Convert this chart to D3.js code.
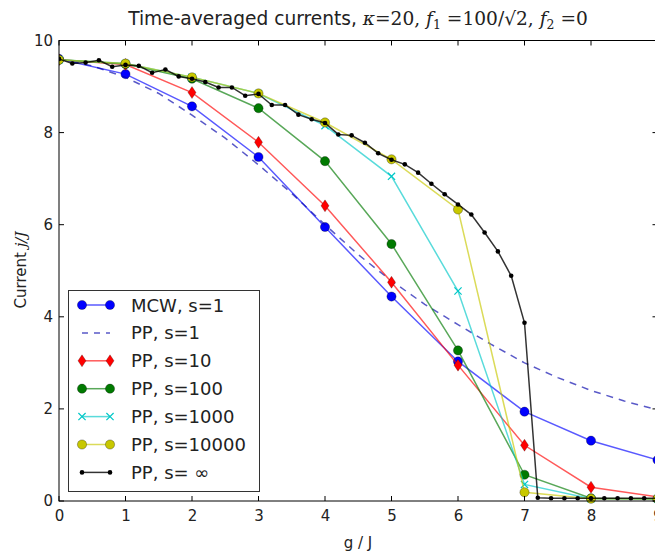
<!DOCTYPE html>
<html><head><meta charset="utf-8">
<script src="https://cdn.jsdelivr.net/npm/d3@7"></script>
<style>body{margin:0;background:#fff} svg{display:block}</style>
</head><body>
<svg id="c" width="655" height="552"></svg>
<script>
// ---------- data ----------
const gValues = [0, 1, 2, 3, 4, 5, 6, 7, 8, 9];
const mcwS1   = [9.60, 9.27, 8.57, 7.47, 5.95, 4.44, 3.03, 1.94, 1.31, 0.89];
const ppS10   = [9.58, 9.48, 8.87, 7.79, 6.41, 4.75, 2.95, 1.21, 0.30, 0.09];
const ppS100  = [9.58, 9.49, 9.17, 8.53, 7.38, 5.58, 3.27, 0.57, 0.06, 0.04];
const ppS1000 = [9.58, 9.50, 9.20, 8.85, 8.15, 7.05, 4.56, 0.36, 0.05, 0.05];
const ppS10000= [9.58, 9.50, 9.20, 8.85, 8.22, 7.42, 6.33, 0.19, 0.05, 0.05];
const ppS1X   = [0, 0.5, 1, 1.5, 2, 2.5, 3, 3.5, 4, 4.5, 5, 5.5, 6, 6.5, 7, 7.5, 8, 8.5, 9];
const ppS1    = [9.60, 9.45, 9.20, 8.85, 8.38, 7.88, 7.30, 6.68, 6.00, 5.35, 4.78, 4.27, 3.83, 3.40, 3.00, 2.68, 2.40, 2.17, 1.98];
const ppInfX  = [0, 0.2, 0.4, 0.6, 0.8, 1.0, 1.2, 1.4, 1.6, 1.8, 2.0, 2.2, 2.4, 2.6, 2.8, 3.0, 3.2, 3.4, 3.6, 3.8,
                 4.0, 4.2, 4.4, 4.6, 4.8, 5.0, 5.2, 5.4, 5.6, 5.8, 6.0, 6.2, 6.4, 6.6, 6.8, 7.0, 7.2, 7.4, 7.6, 7.8,
                 8.0, 8.2, 8.4, 8.6, 8.8, 9.0];
const ppInf   = [9.60, 9.50, 9.52, 9.57, 9.43, 9.47, 9.45, 9.30, 9.37, 9.22, 9.17, 9.10, 8.98, 8.98, 8.80, 8.84, 8.60, 8.60, 8.39, 8.29,
                 8.21, 7.96, 7.94, 7.78, 7.55, 7.41, 7.31, 7.13, 6.89, 6.66, 6.44, 6.22, 5.83, 5.42, 4.89, 3.87, 0.07, 0.06, 0.06, 0.06,
                 0.06, 0.06, 0.06, 0.06, 0.06, 0.06];
const xTicks = [0, 1, 2, 3, 4, 5, 6, 7, 8, 9];
const yTicks = [0, 2, 4, 6, 8, 10];
const legendLabels = ["MCW, s=1", "PP, s=1", "PP, s=10", "PP, s=100", "PP, s=1000", "PP, s=10000", "PP, s= \u221E"];

// ---------- layout ----------
const svg = d3.select("#c");
const L = 59, R = 657.5, T = 40.5, B = 501;
const x = d3.scaleLinear().domain([0, 9]).range([L, R]);
const y = d3.scaleLinear().domain([0, 10]).range([B, T]);
const sans = "'DejaVu Sans', sans-serif";
const serif = "'DejaVu Serif', serif";

const zip = (xs, ys) => xs.map((v, i) => [v, ys[i]]);
const series = [
  {label: legendLabels[0], pts: zip(gValues, mcwS1), color: "#0000ff", marker: "circle", dash: null},
  {label: legendLabels[1], pts: zip(ppS1X, ppS1), color: "#0000aa", marker: null, dash: "7,6"},
  {label: legendLabels[2], pts: zip(gValues, ppS10), color: "#ff0000", marker: "diamond", dash: null},
  {label: legendLabels[3], pts: zip(gValues, ppS100), color: "#007a00", marker: "circle", dash: null},
  {label: legendLabels[4], pts: zip(gValues, ppS1000), color: "#00c8c8", marker: "x", dash: null},
  {label: legendLabels[5], pts: zip(gValues, ppS10000), color: "#c8c800", marker: "circle", dash: null},
  {label: legendLabels[6], pts: zip(ppInfX, ppInf), color: "#000000", marker: "dot", dash: null}
];

svg.append("clipPath").attr("id", "clip").append("rect")
  .attr("x", L).attr("y", T - 8).attr("width", R - L + 10).attr("height", B - T + 16);

const line = d3.line().x(d => x(d[0])).y(d => y(d[1]));

function drawMarker(g, type, color, cx, cy) {
  if (type === "circle") {
    g.append("circle").attr("cx", cx).attr("cy", cy).attr("r", 4.6)
      .attr("fill", color).attr("stroke", "#000").attr("stroke-opacity", 0.5).attr("stroke-width", 0.6);
  } else if (type === "diamond") {
    g.append("path").attr("d", `M${cx},${cy-6} L${cx+4},${cy} L${cx},${cy+6} L${cx-4},${cy} Z`)
      .attr("fill", color).attr("stroke", "#000").attr("stroke-opacity", 0.4).attr("stroke-width", 0.6);
  } else if (type === "x") {
    const s = 3.6;
    g.append("path").attr("d", `M${cx-s},${cy-s} L${cx+s},${cy+s} M${cx-s},${cy+s} L${cx+s},${cy-s}`)
      .attr("stroke", color).attr("stroke-width", 1.2).attr("fill", "none");
  } else if (type === "dot") {
    g.append("circle").attr("cx", cx).attr("cy", cy).attr("r", 2.3).attr("fill", color);
  }
}

const plot = svg.append("g").attr("clip-path", "url(#clip)");
series.forEach(s => {
  const g = plot.append("g");
  g.append("path").datum(s.pts).attr("d", line)
    .attr("fill", "none").attr("stroke", s.color)
    .attr("stroke-opacity", s.marker === "dot" ? 0.8 : 0.65)
    .attr("stroke-width", 1.5)
    .attr("stroke-dasharray", s.dash);
  if (s.marker) s.pts.forEach(p => drawMarker(g, s.marker, s.color, x(p[0]), y(p[1])));
});

// ---------- frame & ticks ----------
const axG = svg.append("g").attr("stroke", "#000").attr("stroke-width", 1);
axG.append("rect").attr("x", L).attr("y", T).attr("width", R - L).attr("height", B - T).attr("fill", "none");
xTicks.forEach(t => {
  axG.append("line").attr("x1", x(t)).attr("x2", x(t)).attr("y1", B).attr("y2", B - 5);
  axG.append("line").attr("x1", x(t)).attr("x2", x(t)).attr("y1", T).attr("y2", T + 5);
});
yTicks.forEach(t => {
  axG.append("line").attr("x1", L).attr("x2", L + 5).attr("y1", y(t)).attr("y2", y(t));
  axG.append("line").attr("x1", R - 5).attr("x2", R).attr("y1", y(t)).attr("y2", y(t));
});

const xAxisLbl = d3.axisBottom(x).tickValues(xTicks).tickFormat(d3.format("d")).tickSize(0).tickPadding(0);
const gx = svg.append("g").attr("transform", `translate(0,${B + 9})`).call(xAxisLbl);
gx.select(".domain").remove();
gx.selectAll("text").attr("font-family", sans).attr("font-size", 15).attr("fill", "#222").attr("dy", "0.71em");

const yAxisLbl = d3.axisLeft(y).tickValues(yTicks).tickFormat(d3.format("d")).tickSize(0).tickPadding(0);
const gy = svg.append("g").attr("transform", `translate(${L - 6},0)`).call(yAxisLbl);
gy.select(".domain").remove();
gy.selectAll("text").attr("font-family", sans).attr("font-size", 15).attr("fill", "#222");

// ---------- titles ----------
const title = svg.append("text").attr("x", 358).attr("y", 25)
  .attr("text-anchor", "middle").attr("font-size", 18.6).attr("fill", "#222").attr("font-family", sans);
title.append("tspan").text("Time-averaged currents, ");
title.append("tspan").attr("font-family", serif).attr("font-style", "italic").text("\u03BA");
title.append("tspan").attr("font-family", serif).text("=20, ");
title.append("tspan").attr("font-family", serif).attr("font-style", "italic").text("f");
title.append("tspan").attr("font-family", serif).attr("font-size", 12.5).attr("dy", 4).text("1");
title.append("tspan").attr("font-family", serif).attr("dy", -4).text(" =100/\u221A2, ");
title.append("tspan").attr("font-family", serif).attr("font-style", "italic").text("f");
title.append("tspan").attr("font-family", serif).attr("font-size", 12.5).attr("dy", 4).text("2");
title.append("tspan").attr("font-family", serif).attr("dy", -4).text(" =0");

svg.append("text").attr("x", 358).attr("y", 548).attr("text-anchor", "middle")
  .attr("font-family", sans).attr("font-size", 15).attr("fill", "#222").text("g / J");

const yl = svg.append("text").attr("transform", "translate(26,270) rotate(-90)").attr("text-anchor", "middle")
  .attr("font-family", sans).attr("font-size", 15).attr("fill", "#222");
yl.append("tspan").text("Current ");
yl.append("tspan").attr("font-family", serif).attr("font-style", "italic").text("j/J");

// ---------- legend ----------
const lg = svg.append("g");
lg.append("rect").attr("x", 68.5).attr("y", 290.5).attr("width", 191).attr("height", 201)
  .attr("fill", "#fff").attr("stroke", "#333").attr("stroke-width", 1);
series.forEach((s, i) => {
  const yy = 305 + i * 27.9;
  const g = lg.append("g");
  g.append("line").attr("x1", 82).attr("x2", 110).attr("y1", yy).attr("y2", yy)
    .attr("stroke", s.color).attr("stroke-opacity", s.marker === "dot" ? 0.8 : 0.65).attr("stroke-width", 1.5)
    .attr("stroke-dasharray", s.dash ? "6,6" : null);
  if (s.marker) { drawMarker(g, s.marker, s.color, 82, yy); drawMarker(g, s.marker, s.color, 110, yy); }
  g.append("text").attr("x", 131).attr("y", yy + 6.5).attr("font-family", sans).attr("font-size", 18)
    .attr("fill", "#222").text(s.label);
});
</script>
</body></html>
